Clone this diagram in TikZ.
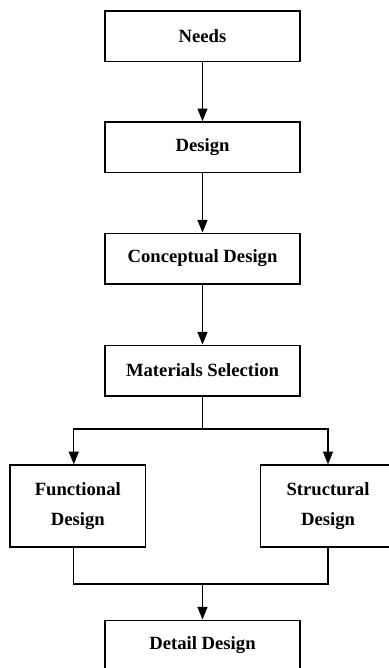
\documentclass[tikz,border=0pt]{standalone}
\usepackage{fontspec}
\setmainfont{Liberation Serif}
\usetikzlibrary{arrows.meta}

\tikzset{
  stagebox/.style={draw,line width=1pt,minimum width=146.25pt,minimum height=38pt,
    inner sep=0pt,font=\bfseries\fontsize{14}{23}\selectfont,align=center},
  branchbox/.style={stagebox,minimum width=101.5pt,minimum height=61.5pt},
  flow/.style={line width=1pt,->}
}

\begin{document}
\begin{tikzpicture}[line cap=butt,line join=miter,>={Triangle[length=9.5pt,width=7.5pt]},x=0.75pt,y=-0.75pt]
\clip (0,0) rectangle (389,668);
\node[stagebox] (needs) at (202.5,36.3) {Needs};
\node[stagebox] (design) at (202.5,147.2) {Design};
\node[stagebox] (concept) at (202.5,258.5) {Conceptual Design};
\node[stagebox] (matsel) at (202.5,370.5) {Materials Selection};
\node[branchbox] (func) at (77.8,506) {Functional\\Design};
\node[branchbox] (struct) at (328,506) {Structural\\Design};
\node[stagebox] (detail) at (202.5,645.5) {Detail Design};
\coordinate (split) at (202.5,429);
\coordinate (merge) at (202.5,584);
\draw [flow] (needs) -- (design);
\draw [flow] (design) -- (concept);
\draw [flow] (concept) -- (matsel);
\draw [line width=1pt] (matsel) -- (split);
\draw [flow] (split) -| ([xshift=-3pt]func.north);
\draw [flow] (split) -| (struct.north);
\draw [line width=1pt] ([xshift=-3pt]func.south) |- (merge) -| (struct.south);
\draw [flow] (merge) -- (detail);
\end{tikzpicture}
\end{document}
